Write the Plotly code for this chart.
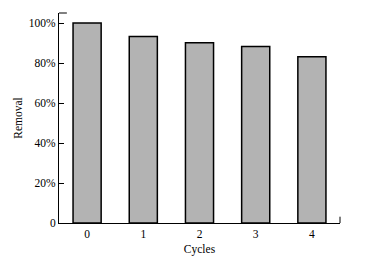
import plotly.graph_objects as go

cycles = ["0", "1", "2", "3", "4"]
removal = [100, 93.2, 90.1, 88.3, 83.1]
y_tickvals = [0, 20, 40, 60, 80, 100]
y_ticktext = ["0", "20%", "40%", "60%", "80%", "100%"]

font = dict(family="Liberation Serif, Times New Roman, serif", size=11.5, color="black")

fig = go.Figure(go.Bar(
    x=list(range(len(cycles))), y=removal, width=0.5,
    marker=dict(color="#b3b3b3", line=dict(color="black", width=1.5)),
))

fig.update_layout(
    width=385, height=263,
    margin=dict(l=59, r=45, t=13, b=40, autoexpand=False),
    paper_bgcolor="white", plot_bgcolor="white",
    font=font, showlegend=False,
    xaxis=dict(range=[-0.5, 4.5], tickvals=list(range(len(cycles))), ticktext=cycles,
               showgrid=False, zeroline=False, showline=True, linecolor="black", linewidth=1,
               ticks="", automargin=False, title=dict(text="Cycles", font=font, standoff=6)),
    yaxis=dict(range=[0, 105], tickvals=y_tickvals, ticktext=y_ticktext,
               showgrid=False, zeroline=False, showline=True, linecolor="black", linewidth=1,
               ticks="inside", ticklen=5, tickcolor="black", automargin=False,
               title=dict(text="Removal", font=font, standoff=3)),
    shapes=[
        dict(type="line", xref="paper", yref="paper", x0=0, x1=0.028, y0=1, y1=1,
             line=dict(color="black", width=1)),
        dict(type="line", xref="paper", yref="paper", x0=1, x1=1, y0=0, y1=0.03,
             line=dict(color="black", width=1)),
    ],
)

fig.write_html("out.html", config={"displayModeBar": False},
               post_script="document.body.style.margin='0';")
